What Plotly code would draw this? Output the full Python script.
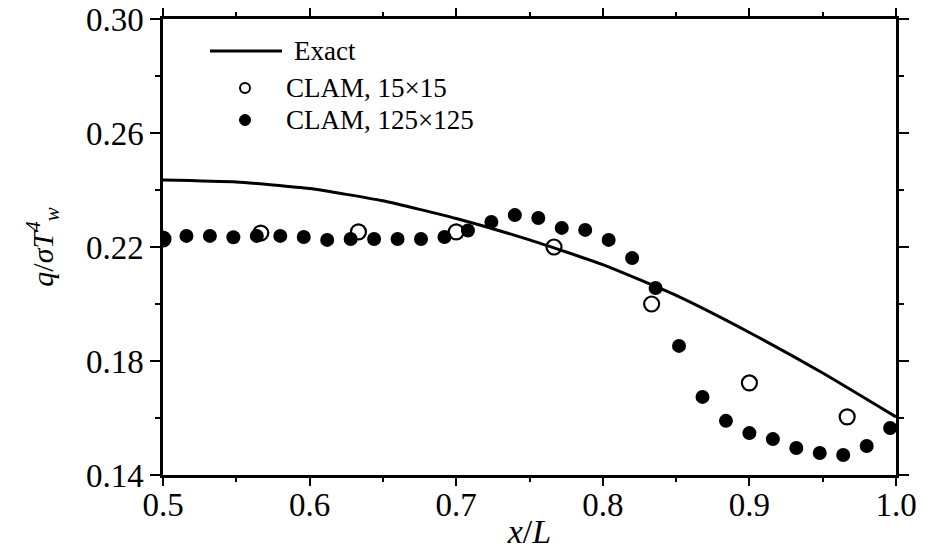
import plotly.graph_objects as go

# Exact solution for the wall heat flux
exact_x = [0.50, 0.55, 0.60, 0.65, 0.70, 0.75, 0.80, 0.85, 0.90, 0.95, 1.00]
exact_q = [0.2435, 0.2428, 0.2405, 0.2362, 0.2300, 0.2225, 0.2138, 0.2030, 0.1900, 0.1758, 0.1604]

# CLAM, coarse 15x15 mesh (cell centres)
coarse_x = [0.5000, 0.5667, 0.6333, 0.7000, 0.7667, 0.8333, 0.9000, 0.9667]
coarse_q = [0.2228, 0.2249, 0.2253, 0.2253, 0.2200, 0.2000, 0.1723, 0.1604]

# CLAM, fine 125x125 mesh (every other cell centre)
fine_x = [0.500, 0.516, 0.532, 0.548, 0.564, 0.580, 0.596, 0.612, 0.628, 0.644,
          0.660, 0.676, 0.692, 0.708, 0.724, 0.740, 0.756, 0.772, 0.788, 0.804,
          0.820, 0.836, 0.852, 0.868, 0.884, 0.900, 0.916, 0.932, 0.948, 0.964,
          0.980, 0.996]
fine_q = [0.2230, 0.2239, 0.2239, 0.2234, 0.2239, 0.2239, 0.2235, 0.2225, 0.2228, 0.2228,
          0.2228, 0.2228, 0.2235, 0.2258, 0.2288, 0.2312, 0.2302, 0.2267, 0.2260, 0.2225,
          0.2161, 0.2056, 0.1853, 0.1674, 0.1590, 0.1547, 0.1526, 0.1495, 0.1477, 0.1470,
          0.1502, 0.1565]

x_ticks = [0.5, 0.6, 0.7, 0.8, 0.9, 1.0]
x_tick_labels = ["0.5", "0.6", "0.7", "0.8", "0.9", "1.0"]
y_ticks = [0.14, 0.18, 0.22, 0.26, 0.30]
y_tick_labels = ["0.14", "0.18", "0.22", "0.26", "0.30"]

legend_labels = ["Exact", "CLAM, 15×15", "CLAM, 125×125"]

FONT = "Liberation Serif"
W, H = 925, 550
ML, MR, MT, MB = 163, 29, 19, 75
PW, PH = W - ML - MR, H - MT - MB


def px_x(px):
    return (px - ML) / PW


def px_y(py):
    return (H - MB - py) / PH


fig = go.Figure()
# The exact curve lives on the labelled overlay axis (same range as the frame axis)
fig.add_trace(go.Scatter(
    x=exact_x, y=exact_q, mode="lines", name=legend_labels[0], showlegend=False,
    xaxis="x2", yaxis="y",
    line=dict(color="black", width=3, shape="spline", smoothing=0.5),
))
fig.add_trace(go.Scatter(
    x=coarse_x, y=coarse_q, mode="markers", name=legend_labels[1], showlegend=False,
    marker=dict(symbol="circle-open", size=15, color="black", line=dict(width=2.2)),
))
fig.add_trace(go.Scatter(
    x=fine_x, y=fine_q, mode="markers", name=legend_labels[2], showlegend=False,
    marker=dict(symbol="circle", size=14, color="black"),
))

# Key in the upper-left corner: long line sample and small symbols
shapes = [
    dict(type="line", xref="paper", yref="paper",
         x0=px_x(210), x1=px_x(282), y0=px_y(51), y1=px_y(51),
         line=dict(color="black", width=3)),
    dict(type="circle", xref="paper", yref="paper",
         x0=px_x(240), x1=px_x(250), y0=px_y(93), y1=px_y(83),
         line=dict(color="black", width=2), fillcolor="white"),
    dict(type="circle", xref="paper", yref="paper",
         x0=px_x(239.5), x1=px_x(250.5), y0=px_y(125.5), y1=px_y(114.5),
         line=dict(color="black", width=1), fillcolor="black"),
]
annotations = []
for label, lx, ly in zip(legend_labels, [292, 284, 284], [51, 88, 120]):
    annotations.append(dict(
        text=label, xref="paper", yref="paper", x=px_x(lx), y=px_y(ly),
        xanchor="left", yanchor="middle", showarrow=False,
        font=dict(family=FONT, size=27, color="black"),
    ))

tick_font = dict(family=FONT, size=33, color="black")

# Frame and tick marks; x tick labels are carried by a tick-less overlay axis
# so that they sit close to the frame
fig.update_layout(xaxis=dict(
    range=[0.5, 1.0], tickvals=x_ticks, showticklabels=False,
    showline=True, linecolor="black", linewidth=2.5, mirror="ticks",
    ticks="outside", ticklen=8, tickwidth=2, tickcolor="black",
    minor=dict(ticks="outside", ticklen=4, tickwidth=2, tickcolor="black", dtick=0.05, tick0=0.5),
    showgrid=False, zeroline=False, automargin=False,
))
fig.update_layout(xaxis2=dict(
    overlaying="x", anchor="y", side="bottom",
    range=[0.5, 1.0], tickvals=x_ticks, ticktext=x_tick_labels,
    ticks="", ticklabelstandoff=7,
    showline=False, showgrid=False, zeroline=False, automargin=False,
    tickfont=tick_font,
    title=dict(text="<i>x</i>/<i>L</i>", font=dict(family=FONT, size=34, color="black"), standoff=0),
))
fig.update_layout(yaxis=dict(
    range=[0.14, 0.30], tickvals=y_ticks, ticktext=y_tick_labels,
    showline=True, linecolor="black", linewidth=2.5, mirror="ticks",
    ticks="outside", ticklen=10, tickwidth=2, tickcolor="black",
    minor=dict(ticks="outside", ticklen=5, tickwidth=2, tickcolor="black", dtick=0.02, tick0=0.14),
    showgrid=False, zeroline=False, automargin=False,
    tickfont=tick_font,
    title=dict(text="<i>q</i>/<i>σT</i><sup><i>4</i></sup><sub><i>w</i></sub>",
               font=dict(family=FONT, size=30, color="black"), standoff=24),
))

fig.update_layout(
    width=W, height=H,
    margin=dict(l=ML, r=MR, t=MT, b=MB),
    paper_bgcolor="white", plot_bgcolor="white",
    showlegend=False,
    shapes=shapes, annotations=annotations,
)

fig.write_html("out.html")
